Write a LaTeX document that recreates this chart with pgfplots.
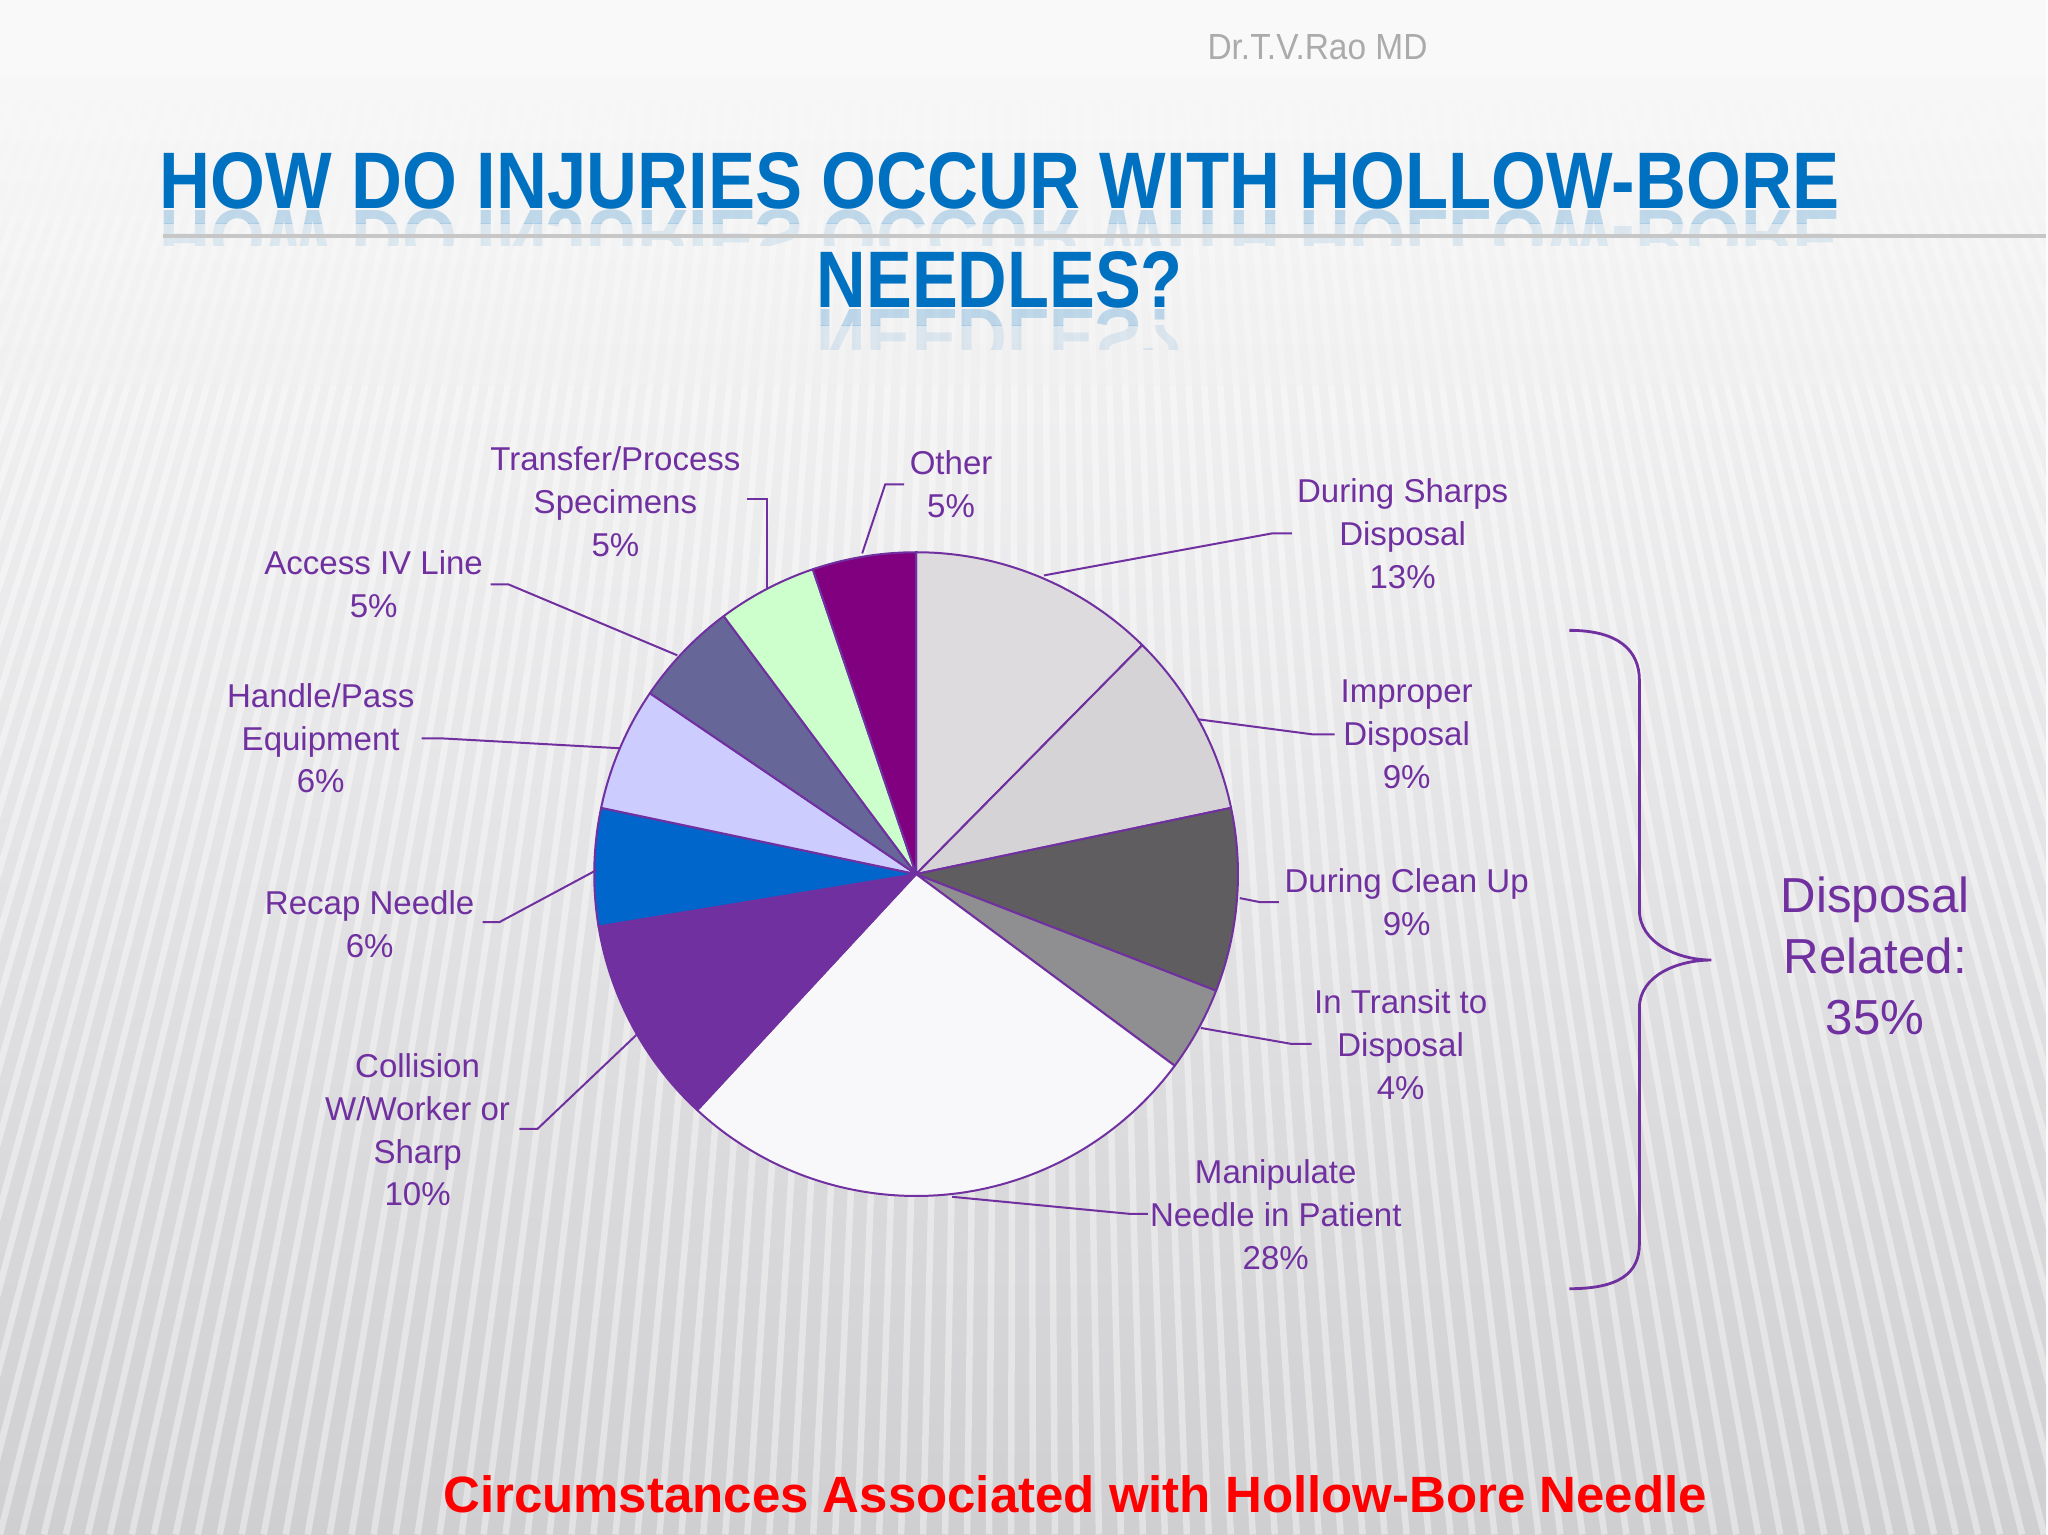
\documentclass[border=0pt]{standalone}
\usepackage{pgfplots}
\pgfplotsset{compat=1.18}
\usepackage{pgfplotstable}
\usepackage{fontspec}
\setmainfont{Liberation Sans}
\usepackage{graphicx}

\definecolor{lab}{HTML}{7030A0}
\definecolor{ttl}{HTML}{0070C0}
\definecolor{cSharps}{HTML}{DDDBDD}
\definecolor{cImproper}{HTML}{D5D3D6}
\definecolor{cClean}{HTML}{5F5D60}
\definecolor{cTransit}{HTML}{8F8E90}
\definecolor{cManip}{HTML}{F8F7FA}
\definecolor{cColl}{HTML}{7030A0}
\definecolor{cRecap}{HTML}{0066CC}
\definecolor{cHandle}{HTML}{CCCCFF}
\definecolor{cAccess}{HTML}{666699}
\definecolor{cTransfer}{HTML}{CCFFCC}
\definecolor{cOther}{HTML}{800080}
\definecolor{bgtop}{HTML}{F9F9F9}
\definecolor{bgmid}{HTML}{E6E6E8}
\definecolor{bgbot}{HTML}{CFCFD1}

\tikzset{lbl/.style={text=lab, align=center, inner sep=0pt, font=\fontsize{9.4}{12.2}\selectfont}}

% share of each circumstance (percent), clockwise from 12 o'clock
\pgfplotstableread{
value color
12.4 cSharps
9.3  cImproper
9.2  cClean
4.25 cTransit
26.75 cManip
10.5 cColl
5.9  cRecap
6.2  cHandle
5.3  cAccess
5.0  cTransfer
5.2  cOther
}\slices

\begin{document}
\begin{tikzpicture}
\begin{axis}[x=0.01cm, y=0.01cm, xmin=0, xmax=2048, ymin=0, ymax=1536,
  axis lines=none, clip=false, ticks=none]

% background
\begin{scope}
\clip (axis cs:0,0) rectangle (axis cs:2048,1536);
\shade[top color=bgtop, bottom color=bgbot, middle color=bgmid] (axis cs:0,0) rectangle (axis cs:2048,1536);
\fill[bgtop] (axis cs:0,1460) rectangle (axis cs:2048,1536);
\foreach \i in {-30,...,125}{
  \pgfmathsetmacro\xb{\i*22}
  \pgfmathsetmacro\xa{1024+(\xb-1024)*(1-0.35*1150/1440)}
  \pgfmathsetmacro\xc{1024+(\xb-1024)*(1-0.35*1320/1440)}
  \pgfmathsetmacro\xt{1024+(\xb-1024)*0.65}
  \edef\temp{\noexpand\draw[white, opacity=0.4, line width=0.065cm] (axis cs:\xb,0) -- (axis cs:\xa,1150);
    \noexpand\draw[white, opacity=0.25, line width=0.065cm] (axis cs:\xa,1150) -- (axis cs:\xc,1320);
    \noexpand\draw[white, opacity=0.12, line width=0.065cm] (axis cs:\xc,1320) -- (axis cs:\xt,1440);}
  \temp
}
\end{scope}

% header
\node[anchor=base west, inner sep=0pt, text=black!33] at (axis cs:1208,1476) {\resizebox{2.2cm}{0.25cm}{Dr.T.V.Rao MD}};
\node[anchor=base west, inner sep=0pt, text=ttl] at (axis cs:159,1327) {\resizebox{16.8cm}{0.56cm}{\bfseries HOW DO INJURIES OCCUR WITH HOLLOW-BORE}};
\begin{scope}
\clip (axis cs:0,1312) rectangle (axis cs:2048,1327);
\node[anchor=north west, inner sep=0pt, text=ttl, opacity=0.22] at (axis cs:159,1327) {\scalebox{1}[-1]{\resizebox{16.8cm}{0.56cm}{\bfseries HOW DO INJURIES OCCUR WITH HOLLOW-BORE}}};
\end{scope}
\begin{scope}
\clip (axis cs:0,1290) rectangle (axis cs:2048,1312);
\node[anchor=north west, inner sep=0pt, text=ttl, opacity=0.1] at (axis cs:159,1327) {\scalebox{1}[-1]{\resizebox{16.8cm}{0.56cm}{\bfseries HOW DO INJURIES OCCUR WITH HOLLOW-BORE}}};
\end{scope}
\draw[black!22, line width=0.04cm] (axis cs:163,1300) -- (axis cs:2048,1300);
\node[anchor=base west, inner sep=0pt, text=ttl] at (axis cs:817,1228) {\resizebox{3.66cm}{0.56cm}{\bfseries NEEDLES?}};
\begin{scope}
\clip (axis cs:0,1210) rectangle (axis cs:2048,1228);
\node[anchor=north west, inner sep=0pt, text=ttl, opacity=0.22] at (axis cs:817,1228) {\scalebox{1}[-1]{\resizebox{3.66cm}{0.56cm}{\bfseries NEEDLES?}}};
\end{scope}
\begin{scope}
\clip (axis cs:0,1186) rectangle (axis cs:2048,1210);
\node[anchor=north west, inner sep=0pt, text=ttl, opacity=0.1] at (axis cs:817,1228) {\scalebox{1}[-1]{\resizebox{3.66cm}{0.56cm}{\bfseries NEEDLES?}}};
\end{scope}

% pie
\xdef\angA{90}
\foreach \i in {0,...,10}{
  \pgfplotstablegetelem{\i}{value}\of\slices \let\sv\pgfplotsretval
  \pgfplotstablegetelem{\i}{color}\of\slices \let\sc\pgfplotsretval
  \pgfmathsetmacro\angB{\angA-3.6*\sv}
  \edef\temp{\noexpand\filldraw[fill=\sc, draw=lab, line width=0.02cm, line join=round] (axis cs:917,661) -- ++(\angA:3.22cm) arc[start angle=\angA, end angle=\angB, radius=3.22cm] -- cycle;}
  \temp
  \xdef\angA{\angB}
}

% leader lines
\draw[lab, line width=0.02cm] (axis cs:748,1036) -- (axis cs:768,1036) -- (axis cs:768,946);
\draw[lab, line width=0.02cm] (axis cs:905,1051) -- (axis cs:886,1051) -- (axis cs:863,982);
\draw[lab, line width=0.02cm] (axis cs:1293,1002) -- (axis cs:1273,1002) -- (axis cs:1045,960);
\draw[lab, line width=0.02cm] (axis cs:1199,816) -- (axis cs:1313,801) -- (axis cs:1336,801);
\draw[lab, line width=0.02cm] (axis cs:1241,637) -- (axis cs:1261,633) -- (axis cs:1280,633);
\draw[lab, line width=0.02cm] (axis cs:1202,507) -- (axis cs:1293,491) -- (axis cs:1313,491);
\draw[lab, line width=0.02cm] (axis cs:953,338) -- (axis cs:1130,321) -- (axis cs:1149,321);
\draw[lab, line width=0.02cm] (axis cs:520,406) -- (axis cs:538,406) -- (axis cs:637,500);
\draw[lab, line width=0.02cm] (axis cs:483,613) -- (axis cs:500,613) -- (axis cs:597,665);
\draw[lab, line width=0.02cm] (axis cs:422,797) -- (axis cs:440,797) -- (axis cs:620,787);
\draw[lab, line width=0.02cm] (axis cs:491,951) -- (axis cs:509,951) -- (axis cs:678,880);

% labels
\node[lbl] at (axis cs:616,1034) {Transfer/Process\\Specimens\\5\%};
\node[lbl] at (axis cs:952,1051) {Other\\5\%};
\node[lbl] at (axis cs:1404,1002) {During Sharps\\Disposal\\13\%};
\node[lbl] at (axis cs:1408,801) {Improper\\Disposal\\9\%};
\node[lbl] at (axis cs:1408,633) {During Clean Up\\9\%};
\node[lbl] at (axis cs:1402,490) {In Transit to\\Disposal\\4\%};
\node[lbl] at (axis cs:1277,320) {Manipulate\\Needle in Patient\\28\%};
\node[lbl] at (axis cs:418,405) {Collision\\W/Worker or\\Sharp\\10\%};
\node[lbl] at (axis cs:370,611) {Recap Needle\\6\%};
\node[lbl] at (axis cs:321,797) {Handle/Pass\\Equipment\\6\%};
\node[lbl] at (axis cs:374,951) {Access IV Line\\5\%};

% brace
\draw[lab, line width=0.028cm] (axis cs:1571,905) .. controls (axis cs:1620,905) and (axis cs:1641,885) .. (axis cs:1641,855)
  -- (axis cs:1641,625) .. controls (axis cs:1641,592) and (axis cs:1680,575) .. (axis cs:1713,575)
  .. controls (axis cs:1680,575) and (axis cs:1641,560) .. (axis cs:1641,527)
  -- (axis cs:1641,291) .. controls (axis cs:1641,261) and (axis cs:1620,246) .. (axis cs:1571,246);
\node[text=lab, align=center, inner sep=0pt, font=\fontsize{14}{17.4}\selectfont] at (axis cs:1877,579) {Disposal\\Related:\\35\%};

% footer
\node[anchor=base west, inner sep=0pt, text=red] at (axis cs:443,22) {\resizebox{12.64cm}{0.37cm}{\bfseries Circumstances Associated with Hollow-Bore Needle}};
\end{axis}
\end{tikzpicture}
\end{document}
